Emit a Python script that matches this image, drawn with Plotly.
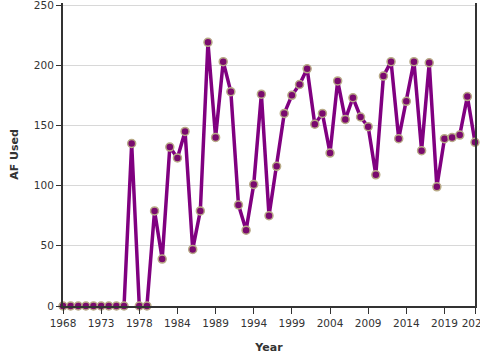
import plotly.graph_objects as go

years = [str(y) for y in list(range(1968, 1981)) + list(range(1982, 2024))]
af_used = [0, 0, 0, 0, 0, 0, 0, 0, 0, 135, 0, 0, 79, 39, 132, 123, 145, 47, 79, 219,
           140, 203, 178, 84, 63, 101, 176, 75, 116, 160, 175, 184, 197, 151, 160, 127,
           187, 155, 173, 157, 149, 109, 191, 203, 139, 170, 203, 129, 202, 99, 139, 140,
           142, 174, 136]

tick_idx = [0, 5, 10, 15, 20, 25, 30, 35, 40, 45, 50, 54]
tick_years = [years[i] for i in tick_idx]

fig = go.Figure()
fig.add_trace(go.Scatter(
    x=years, y=af_used, mode="lines+markers",
    line=dict(color="#800080", width=3.5),
    marker=dict(size=8, color="#7a0a6e", line=dict(color="#b8aa86", width=1.5)),
    cliponaxis=False, hoverinfo="x+y",
))

fig.update_layout(
    width=480, height=360,
    margin=dict(l=63, r=5, t=3, b=54),
    paper_bgcolor="white", plot_bgcolor="white",
    showlegend=False,
    font=dict(family="DejaVu Sans", color="#333", size=10.5),
    xaxis=dict(
        type="category", range=[0, 54], automargin=False,
        tickmode="array", tickvals=tick_years, ticktext=tick_years,
        showline=True, linecolor="#333", linewidth=2,
        ticks="outside", ticklen=6, tickcolor="#333", tickwidth=1,
        showgrid=False, zeroline=False, ticklabeloverflow="allow",
        title=dict(text="<b>Year</b>", font=dict(size=11, color="#333"), standoff=16),
    ),
    yaxis=dict(
        range=[0, 251.7], tickvals=[0, 50, 100, 150, 200, 250], automargin=False,
        showline=True, linecolor="#333", linewidth=2, mirror=True,
        ticks="outside", ticklen=5, tickcolor="#333", tickwidth=1,
        showgrid=True, gridcolor="#d8d8d8", gridwidth=1,
        zeroline=False, ticklabeloverflow="allow",
        title=dict(text="<b>AF Used</b>", font=dict(size=11, color="#333"), standoff=13),
    ),
)

fig.write_html(
    "out.html",
    config={"displayModeBar": False},
    post_script="document.body.style.margin='0';document.body.style.overflow='hidden';",
)
